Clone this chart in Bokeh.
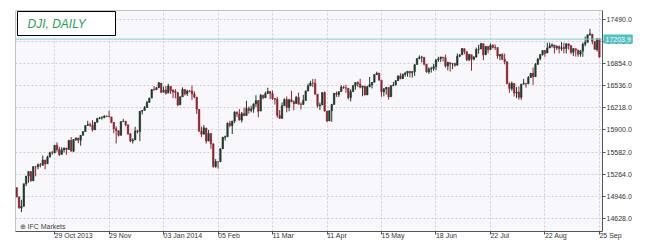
from bokeh.plotting import figure
from bokeh.models import (ColumnDataSource, FixedTicker, PrintfTickFormatter, LinearAxis,
                          Label, BoxAnnotation, Range1d)
from bokeh.embed import file_html
from bokeh.resources import INLINE

# ---------------- data (DJI daily, Oct 2013 - Sep 2014) ----------------
dates = [
    "2013-10-07","2013-10-08","2013-10-09","2013-10-10","2013-10-11","2013-10-14","2013-10-15","2013-10-16","2013-10-17","2013-10-18",
    "2013-10-21","2013-10-22","2013-10-23","2013-10-24","2013-10-25","2013-10-28","2013-10-29","2013-10-30","2013-10-31",
    "2013-11-01","2013-11-04","2013-11-05","2013-11-06","2013-11-07","2013-11-08","2013-11-11","2013-11-12","2013-11-13","2013-11-14",
    "2013-11-15","2013-11-18","2013-11-19","2013-11-20","2013-11-21","2013-11-22","2013-11-25","2013-11-26","2013-11-27","2013-11-28","2013-11-29",
    "2013-12-02","2013-12-03","2013-12-04","2013-12-05","2013-12-06","2013-12-09","2013-12-10","2013-12-11","2013-12-12","2013-12-13",
    "2013-12-16","2013-12-17","2013-12-18","2013-12-19","2013-12-20","2013-12-23","2013-12-24","2013-12-26","2013-12-27","2013-12-30","2013-12-31",
    "2014-01-02","2014-01-03","2014-01-06","2014-01-07","2014-01-08","2014-01-09","2014-01-10","2014-01-13","2014-01-14","2014-01-15",
    "2014-01-16","2014-01-17","2014-01-20","2014-01-21","2014-01-22","2014-01-23","2014-01-24","2014-01-27","2014-01-28","2014-01-29","2014-01-30","2014-01-31",
    "2014-02-03","2014-02-04","2014-02-05","2014-02-06","2014-02-07","2014-02-10","2014-02-11","2014-02-12","2014-02-13","2014-02-14",
    "2014-02-18","2014-02-19","2014-02-20","2014-02-21","2014-02-24","2014-02-25","2014-02-26","2014-02-27","2014-02-28",
    "2014-03-03","2014-03-04","2014-03-05","2014-03-06","2014-03-07","2014-03-10","2014-03-11","2014-03-12","2014-03-13","2014-03-14",
    "2014-03-17","2014-03-18","2014-03-19","2014-03-20","2014-03-21","2014-03-24","2014-03-25","2014-03-26","2014-03-27","2014-03-28","2014-03-31",
    "2014-04-01","2014-04-02","2014-04-03","2014-04-04","2014-04-07","2014-04-08","2014-04-09","2014-04-10","2014-04-11","2014-04-14",
    "2014-04-15","2014-04-16","2014-04-17","2014-04-21","2014-04-22","2014-04-23","2014-04-24","2014-04-25","2014-04-28","2014-04-29","2014-04-30",
    "2014-05-01","2014-05-02","2014-05-05","2014-05-06","2014-05-07","2014-05-08","2014-05-09","2014-05-12","2014-05-13","2014-05-14",
    "2014-05-15","2014-05-16","2014-05-19","2014-05-20","2014-05-21","2014-05-22","2014-05-23","2014-05-27","2014-05-28","2014-05-29","2014-05-30",
    "2014-06-02","2014-06-03","2014-06-04","2014-06-05","2014-06-06","2014-06-09","2014-06-10","2014-06-11","2014-06-12","2014-06-13",
    "2014-06-16","2014-06-17","2014-06-18","2014-06-19","2014-06-20","2014-06-23","2014-06-24","2014-06-25","2014-06-26","2014-06-27","2014-06-30",
    "2014-07-01","2014-07-02","2014-07-03","2014-07-07","2014-07-08","2014-07-09","2014-07-10","2014-07-11","2014-07-14","2014-07-15",
    "2014-07-16","2014-07-17","2014-07-18","2014-07-21","2014-07-22","2014-07-23","2014-07-24","2014-07-25","2014-07-28","2014-07-29","2014-07-30","2014-07-31",
    "2014-08-01","2014-08-04","2014-08-05","2014-08-06","2014-08-07","2014-08-08","2014-08-11","2014-08-12","2014-08-13","2014-08-14",
    "2014-08-15","2014-08-18","2014-08-19","2014-08-20","2014-08-21","2014-08-22","2014-08-25","2014-08-26","2014-08-27","2014-08-28","2014-08-29",
    "2014-09-02","2014-09-03","2014-09-04","2014-09-05","2014-09-08","2014-09-09","2014-09-10","2014-09-11","2014-09-12",
    "2014-09-15","2014-09-16","2014-09-17","2014-09-18","2014-09-19","2014-09-22","2014-09-23","2014-09-24","2014-09-25",
]

opens = [
    15070,14936,14776,14802,15126,15237,15301,15168,15373,15371,15399,15392,15467,15413,15509,15570,15568,15680,15618,
    15546,15615,15639,15618,15746,15593,15761,15784,15751,15822,15876,15962,15976,15968,15900,16010,16065,16073,16073,16098,16092,
    16086,16008,15915,15889,15821,16020,16025,15973,15844,15739,15755,15885,15875,16168,16179,16221,16294,16357,16479,16478,16505,
    16572,16441,16474,16429,16527,16472,16453,16434,16260,16374,16480,16418,16459,16460,16416,16371,16196,15879,15838,15927,15739,15848,
    15698,15372,15443,15443,15630,15794,15801,15995,15962,16026,16154,16128,16040,16134,16106,16209,16180,16199,16273,
    16321,16170,16395,16361,16423,16453,16419,16349,16341,16108,16065,16248,16337,16221,16333,16304,16278,16368,16269,16265,16322,
    16457,16532,16573,16573,16413,16245,16257,16436,16169,16028,16174,16264,16425,16409,16450,16513,16502,16499,16362,16449,16535,
    16580,16560,16511,16530,16402,16519,16550,16584,16694,16712,16613,16444,16489,16509,16376,16533,16544,16607,16675,16635,16697,
    16715,16741,16720,16736,16839,16925,16943,16942,16843,16733,16774,16780,16807,16908,16922,16945,16936,16816,16866,16846,16851,
    16828,16957,16979,17067,17023,16906,16979,16916,16945,17056,17061,17139,16978,17098,17053,17114,17087,17082,16962,16983,16914,16880,
    16561,16493,16567,16429,16443,16368,16556,16568,16561,16652,16713,16665,16841,16920,16981,17041,17003,17076,17106,17120,17080,
    17098,17070,17082,17068,17137,17111,17014,17066,17048,16988,17031,17130,17157,17266,17275,17171,17055,17208,
]

highs = [
    15070,14946,14895,15126,15238,15304,15302,15376,15377,15417,15425,15531,15467,15530,15587,15600,15681,15721,15656,
    15650,15645,15639,15758,15797,15769,15789,15784,15822,15881,15962,16030,16003,16040,16010,16065,16085,16099,16111,16105,16174,
    16087,16008,15951,15889,16021,16058,16025,15973,15852,15778,15945,15900,16168,16186,16243,16318,16358,16483,16529,16515,16588,
    16573,16519,16532,16562,16528,16482,16486,16445,16383,16511,16483,16475,16470,16535,16454,16371,16196,15947,15970,15927,15897,15848,
    15708,15481,15443,15632,15798,15818,16007,16030,16029,16168,16164,16199,16156,16220,16320,16234,16247,16281,16398,
    16321,16417,16406,16450,16505,16453,16465,16355,16375,16185,16294,16353,16381,16346,16462,16324,16389,16435,16295,16402,16464,
    16565,16604,16632,16632,16413,16293,16437,16454,16169,16180,16274,16426,16451,16450,16541,16533,16547,16499,16483,16545,16586,
    16598,16634,16531,16530,16534,16660,16584,16702,16736,16721,16613,16493,16514,16509,16543,16588,16613,16676,16715,16709,16735,
    16743,16741,16744,16845,16924,16970,16963,16942,16848,16799,16807,16847,16911,16950,16950,16948,16981,16880,16866,16857,16867,
    16998,16990,17074,17067,17023,16985,16979,16962,17082,17120,17151,17139,17101,17098,17142,17130,17128,17082,16990,17001,16995,16880,
    16583,16595,16567,16515,16525,16562,16632,16568,16674,16713,16796,16861,16929,16990,17040,17045,17154,17153,17142,17120,17115,
    17111,17161,17151,17138,17137,17111,17068,17066,17048,17049,17156,17240,17265,17351,17275,17171,17211,17208,
]

lows = [
    14932,14773,14719,14802,15093,15141,15155,15168,15233,15334,15361,15392,15334,15413,15508,15544,15568,15584,15524,
    15546,15575,15542,15618,15593,15580,15740,15708,15673,15822,15876,15962,15945,15876,15900,16003,16052,16048,16070,16085,16084,
    15996,15852,15704,15805,15821,16020,15951,15828,15722,15703,15755,15849,15738,16122,16179,16221,16294,16357,16461,16475,16505,
    16426,16441,16405,16429,16416,16358,16353,16240,16260,16374,16394,16387,16440,16331,16353,16129,15879,15796,15838,15703,15739,15628,
    15356,15356,15341,15443,15625,15747,15801,15938,15841,15998,16083,16035,16006,16100,16106,16133,16152,16145,16231,
    16082,16170,16339,16361,16419,16340,16330,16263,16074,16059,16065,16248,16153,16168,16299,16182,16278,16267,16192,16265,16322,
    16457,16532,16515,16411,16218,16185,16257,16161,16015,16028,16016,16264,16374,16373,16450,16490,16434,16335,16308,16449,16477,
    16515,16496,16383,16398,16402,16515,16495,16584,16689,16612,16376,16382,16406,16335,16376,16532,16544,16607,16628,16635,16664,
    16664,16654,16651,16675,16839,16913,16869,16826,16721,16705,16723,16749,16759,16875,16876,16883,16794,16754,16737,16774,16807,
    16828,16946,16979,16986,16888,16888,16750,16898,16945,16994,17061,16901,16978,16999,17053,17070,17047,16923,16899,16912,16841,16557,
    16434,16461,16379,16356,16334,16333,16556,16505,16561,16651,16546,16665,16841,16898,16967,16948,17003,17076,17083,16999,17048,
    16999,17034,17001,16997,17053,16987,16961,16954,16950,16950,16950,17101,17157,17253,17129,17054,17025,16940,
]

closes = [
    14936,14776,14802,15126,15237,15301,15168,15373,15371,15399,15392,15467,15413,15509,15570,15568,15680,15618,15546,
    15615,15639,15618,15746,15593,15761,15784,15751,15822,15876,15962,15976,15968,15900,16010,16065,16073,16073,16098,16092,16086,
    16008,15915,15889,15821,16020,16025,15973,15844,15739,15755,15885,15875,16168,16179,16221,16294,16357,16479,16478,16505,16577,
    16441,16469,16425,16531,16462,16444,16437,16257,16374,16482,16418,16459,16452,16415,16374,16198,15879,15838,15929,15739,15849,15699,
    15373,15445,15441,15629,15795,15802,15994,15964,16027,16154,16130,16041,16134,16104,16208,16180,16199,16273,16322,
    16168,16396,16361,16422,16453,16419,16351,16340,16109,16066,16247,16337,16223,16332,16303,16276,16367,16269,16264,16323,16458,
    16533,16573,16572,16413,16246,16257,16437,16171,16027,16174,16263,16425,16409,16449,16514,16502,16501,16361,16449,16535,16581,
    16559,16513,16531,16401,16518,16551,16583,16695,16715,16614,16447,16491,16511,16374,16533,16543,16606,16676,16634,16699,16717,
    16743,16722,16737,16836,16924,16943,16945,16843,16734,16775,16781,16808,16906,16921,16947,16937,16818,16867,16846,16851,16827,
    16956,16976,17068,17024,16907,16985,16915,16944,17055,17060,17138,16977,17100,17052,17114,17087,17083,16961,16983,16912,16881,16563,
    16493,16569,16430,16443,16369,16554,16570,16560,16652,16713,16663,16839,16920,16979,17040,17001,17077,17107,17122,17079,17098,
    17068,17079,17069,17138,17111,17014,17068,17049,16988,17031,17131,17157,17266,17280,17173,17056,17210,16946,
]

tick_dates = ["2013-10-29", "2013-11-29", "2014-01-03", "2014-02-05", "2014-03-11", "2014-04-11",
              "2014-05-15", "2014-06-18", "2014-07-22", "2014-08-22", "2014-09-25"]
tick_labels = ["29 Oct 2013", "29 Nov", "03 Jan 2014", "05 Feb", "11 Mar", "11 Apr",
               "15 May", "18 Jun", "22 Jul", "22 Aug", "25 Sep"]
price_ticks = [14628, 14946, 15264, 15582, 15900, 16218, 16536, 16854, 17172, 17490]
last_price = 17203.9
title_text = "DJI, DAILY"
brand_text = "\u2295 IFC Markets"

assert len(dates) == len(opens) == len(highs) == len(lows) == len(closes)

# ---------------- layout constants ----------------
W, H = 649, 252
LEFT, TOP, BOTTOM = 15, 10, 21
PLOT_RIGHT = 602                      # pixel where the price scale sits
Y0, Y1 = 14440, 17615
X0, X1 = -0.5, 247.3                  # bar-index span of the chart area
# the frame runs to the canvas edge so the price tag can be drawn beside the scale
XE = X0 + (X1 - X0) * (W - LEFT) / (PLOT_RIGHT - LEFT)

# ---------------- build ----------------
UP, DOWN = "#1f3a2a", "#8c2633"
AXC = "#555555"
idx = list(range(len(dates)))
src = ColumnDataSource(dict(
    x=idx, high=highs, low=lows,
    top=[max(o, c) for o, c in zip(opens, closes)],
    bottom=[min(o, c) for o, c in zip(opens, closes)],
    color=[UP if c >= o else DOWN for o, c in zip(opens, closes)],
))

p = figure(width=W, height=H, output_backend="svg", toolbar_location=None,
           x_range=Range1d(X0, XE), y_range=Range1d(Y0, Y1),
           y_axis_location=None,
           min_border_left=LEFT, min_border_right=0, min_border_top=TOP, min_border_bottom=BOTTOM)

p.background_fill_color = "white"
p.border_fill_color = "white"
p.outline_line_color = None

# chart area (lavender) with its border, under the grid
p.add_layout(BoxAnnotation(right=X1, fill_color="#f8f8fc", fill_alpha=1.0,
                           line_color="#8a8a8a", line_alpha=1.0, line_width=1, level="image"))

# grids
xt = [dates.index(d) for d in tick_dates]
p.xgrid.ticker = FixedTicker(ticks=xt)
p.ygrid.ticker = FixedTicker(ticks=price_ticks)
for g in (p.xgrid[0], p.ygrid[0]):
    g.grid_line_color = "#cdcdd5"
    g.grid_line_dash = "2 2"
    g.grid_line_width = 1

# blank out the grid beside the price scale
p.add_layout(BoxAnnotation(left=X1, fill_color="white", fill_alpha=1.0,
                           line_color=None, level="underlay"))

# candles
p.segment(x0="x", y0="high", x1="x", y1="low", source=src, line_color="color", line_width=1)
p.vbar(x="x", width=0.62, top="top", bottom="bottom", source=src,
       fill_color="color", line_color="color", line_width=0.6)

# current price line
p.segment(x0=[X0], x1=[X1], y0=[last_price], y1=[last_price], line_color="#7fd3d3", line_width=1)

# x axis (dates)
p.xaxis.ticker = FixedTicker(ticks=xt)
p.xaxis.major_label_overrides = {t: l for t, l in zip(xt, tick_labels)}
p.xaxis.major_label_orientation = -1e-6   # near-horizontal: labels start at their tick
p.xaxis.bounds = (X0, X1)

# y axis (prices), fixed at the right edge of the chart area
yax = LinearAxis(fixed_location=X1, ticker=FixedTicker(ticks=price_ticks),
                 formatter=PrintfTickFormatter(format="%.1f"))
p.add_layout(yax, "right")

for ax in (p.xaxis[0], yax):
    ax.axis_line_color = AXC
    ax.major_tick_line_color = AXC
    ax.major_tick_out = 3
    ax.major_tick_in = 0
    ax.minor_tick_line_color = None
    ax.major_label_text_font = "Liberation Sans"
    ax.major_label_text_font_size = "7px"
    ax.major_label_text_color = "#333333"
    ax.major_label_standoff = 1

# price tag
p.add_layout(Label(x=PLOT_RIGHT + 1, y=last_price, x_units="canvas", y_units="data",
                   text=f"{last_price:.1f}",
                   text_align="left", text_baseline="middle",
                   text_font="Liberation Sans", text_font_size="7px", text_color="white",
                   background_fill_color="#4cc2c2", padding=2))

# title box
p.add_layout(BoxAnnotation(left=17, right=115, top=11, bottom=35,
                           left_units="canvas", right_units="canvas",
                           top_units="canvas", bottom_units="canvas",
                           fill_color="white", fill_alpha=1.0,
                           line_color="black", line_alpha=1.0, line_width=1))
p.add_layout(Label(x=27, y=23, x_units="canvas", y_units="canvas", text=title_text,
                   text_baseline="middle", text_font="Liberation Sans",
                   text_font_style="italic", text_font_size="12px", text_color="#1f9e58"))
p.add_layout(Label(x=19, y=226, x_units="canvas", y_units="canvas", text=brand_text,
                   text_baseline="middle", text_font="Liberation Sans",
                   text_font_size="7px", text_color="#444444"))

open("out.html", "w").write(file_html(p, INLINE))
